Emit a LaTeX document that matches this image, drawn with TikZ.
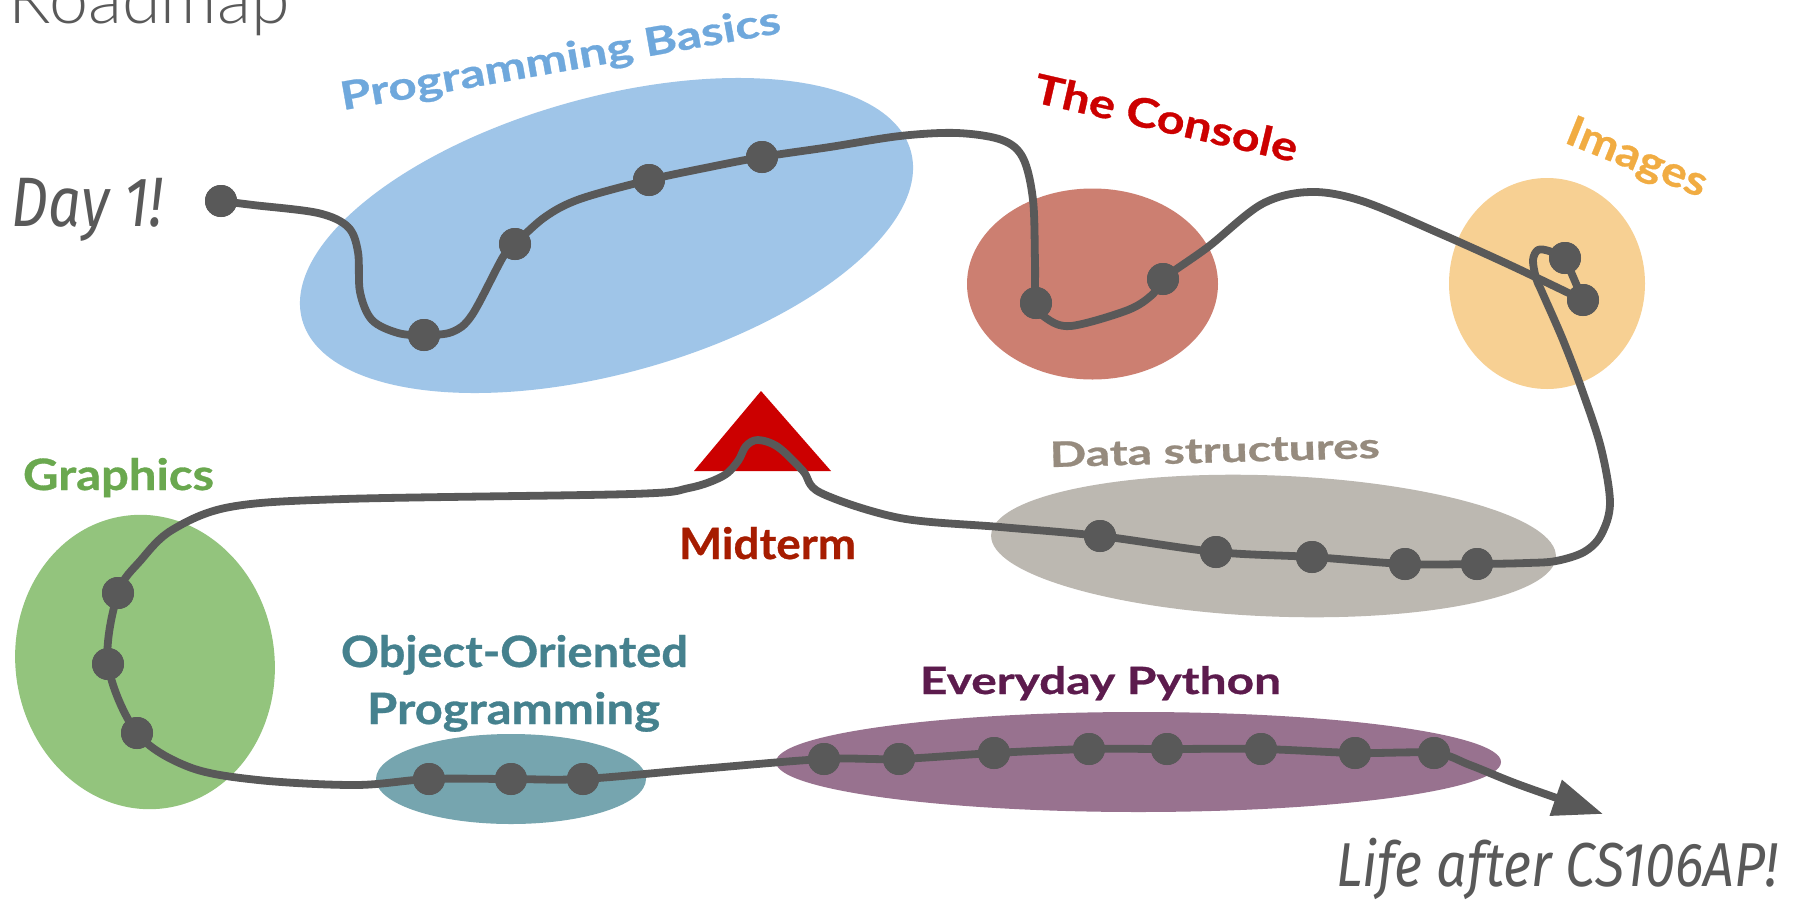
\documentclass[tikz,border=0pt]{standalone}
\usepackage{fontspec}
\usepackage{graphicx}
\usetikzlibrary{shapes.geometric,arrows.meta}
\newfontfamily\labfont{Lato}[BoldFeatures={FakeBold=0.7}]
\newfontfamily\handfont{Fira Sans}[UprightFont={* Italic}]
\newfontfamily\titlefont{Lato Light}
\definecolor{pathc}{HTML}{595959}
\definecolor{pbfill}{HTML}{9FC5E8}
\definecolor{pbtext}{HTML}{6FA8DC}
\definecolor{cofill}{HTML}{CC7F71}
\definecolor{cotext}{HTML}{CC0000}
\definecolor{imfill}{HTML}{F7D093}
\definecolor{imtext}{HTML}{F1AC42}
\definecolor{grfill}{HTML}{93C47D}
\definecolor{grtext}{HTML}{6AA84F}
\definecolor{oofill}{HTML}{76A5AF}
\definecolor{ootext}{HTML}{45818E}
\definecolor{epfill}{HTML}{98728F}
\definecolor{eptext}{HTML}{5C1B4D}
\definecolor{dsfill}{HTML}{BCB8B1}
\definecolor{dstext}{HTML}{968B7E}
\definecolor{midtri}{HTML}{CC0000}
\definecolor{midtext}{HTML}{A61C00}
\newcommand\lab[3]{\fontsize{#1}{#1}\selectfont\resizebox{#2}{\height}{#3}}
\tikzset{
  blob/.style={ellipse, inner sep=0pt, draw=none},
  lbl/.style={anchor=base, inner sep=0pt, font=\labfont\bfseries},
  hand/.style={anchor=base, inner sep=0pt, font=\handfont, text=pathc},
  dotn/.style={circle, fill=pathc, inner sep=0pt, minimum size=16pt},
  road/.style={draw=pathc, line width=3.9pt, line cap=round, line join=round},
}
\begin{document}
\begin{tikzpicture}[x=0.5pt, y=-0.5pt]
\fill[white] (0,0) rectangle (1794,900);
\useasboundingbox (0,0) rectangle (1794,900);

% title
\node[font=\titlefont, text=pathc, anchor=base east, inner sep=0pt] (title) at (290,23) {\fontsize{35pt}{35pt}\selectfont Roadmap};

% regions
\node[blob, fill=pbfill, minimum width=315.8pt, minimum height=138pt, rotate=15.5] (epb) at (606.5,235.5) {};
\node[blob, fill=cofill, minimum width=125.5pt, minimum height=95.5pt] (eco) at (1092.5,284) {};
\node[blob, fill=imfill, minimum width=98pt, minimum height=105.5pt] (eim) at (1547,283.5) {};
\node[blob, fill=grfill, minimum width=129.5pt, minimum height=147.5pt, rotate=8] (egr) at (145,662) {};
\node[blob, fill=oofill, minimum width=135pt, minimum height=45pt] (eoo) at (511,779) {};
\node[blob, fill=epfill, minimum width=362.5pt, minimum height=50pt] (eep) at (1138.5,762) {};
\node[blob, fill=dsfill, minimum width=282.6pt, minimum height=70.5pt, rotate=-2.2] (eds) at (1273.5,546) {};

% midterm triangle
\coordinate (ta) at (761,391);
\coordinate (tb) at (831,471);
\coordinate (tc) at (694,471);
\fill[midtri] (ta) -- (tb) -- (tc) -- cycle;

% labels
\node[lbl, text=pbtext, rotate=10] (lpb) at (562.5,71.5) {\lab{19.5pt}{223pt}{Programming Basics}};
\node[lbl, text=cotext, rotate=-13] (lco) at (1163,132) {\lab{20.2pt}{134.5pt}{The Console}};
\node[lbl, text=imtext, rotate=-22] (lim) at (1632,170) {\lab{21pt}{74pt}{Images}};
\node[lbl, text=grtext] (lgr) at (118.5,490) {\lab{21.6pt}{95.5pt}{Graphics}};
\node[lbl, text=midtext] (lmid) at (767.5,559) {\lab{21.6pt}{88.5pt}{Midterm}};
\node[lbl, text=ootext] (loo1) at (514.5,667) {\lab{21.6pt}{173.5pt}{Object-Oriented}};
\node[lbl, text=ootext] (loo2) at (513.5,724) {\lab{21.6pt}{146.5pt}{Programming}};
\node[lbl, text=dstext, rotate=1.6] (lds) at (1215,462.5) {\lab{17.5pt}{165pt}{Data structures}};
\node[lbl, text=eptext] (lep) at (1100.5,694) {\lab{18.8pt}{180.5pt}{Everyday Python}};
\node[hand] (lday) at (87.5,226) {\lab{35pt}{75.5pt}{Day 1!}};
\node[hand] (llife) at (1557,886) {\lab{31pt}{221pt}{Life after CS106AP!}};

% stops
\node[dotn] (d0) at (221,201) {};
\node[dotn] (d1) at (424,335) {};
\node[dotn] (d2) at (515,244) {};
\node[dotn] (d3) at (649,180) {};
\node[dotn] (d4) at (762,157) {};
\node[dotn] (d5) at (1036,303) {};
\node[dotn] (d6) at (1163,279) {};
\node[dotn] (d7) at (1583,300) {};
\node[dotn] (d8) at (1565,258) {};
\node[dotn] (d9) at (1477,564) {};
\node[dotn] (d10) at (1405,564) {};
\node[dotn] (d11) at (1312,557) {};
\node[dotn] (d12) at (1216,552) {};
\node[dotn] (d13) at (1100,536) {};
\node[dotn] (d14) at (118,593) {};
\node[dotn] (d15) at (108,664) {};
\node[dotn] (d16) at (137,733) {};
\node[dotn] (d17) at (429,779) {};
\node[dotn] (d18) at (511,779) {};
\node[dotn] (d19) at (583,779) {};
\node[dotn] (d20) at (824,759) {};
\node[dotn] (d21) at (899,759) {};
\node[dotn] (d22) at (994,753) {};
\node[dotn] (d23) at (1089,749) {};
\node[dotn] (d24) at (1167,749) {};
\node[dotn] (d25) at (1261,749) {};
\node[dotn] (d26) at (1355,753) {};
\node[dotn] (d27) at (1434,753) {};
\coordinate (tip) at (1603,814);

% road
\draw[road] plot[smooth, tension=0.55] coordinates {
 (d0.center) (253,205) (318,213) (348,227) (358,252) (360,292) (372,320) (398,333) (d1.center)
 (452,332) (472,315) (503,257) (d2.center) (545,217) (580,199) (d3.center) (705,168) (d4.center)
 (830,147) (900,136) (957,133) (1002,140) (1023,158) (1033,200) (1035,262) (d5.center)
 (1046,318) (1071,326) (1128,310) (1153,294) (d6.center) (1208,247) (1262,204) (1310,192)
 (1362,201) (1441,234) (1512,266) (d7.center)};
\draw[road] (d7.center) -- (d8.center);
\draw[road, -{Triangle[length=25pt 0 0, width=18pt 0 0]}] plot[smooth, tension=0.55] coordinates {
 (d8.center) (1549,251) (1538,250) (1533,260) (1536,278) (1542,292) (1563,340) (1582,390)
 (1601,448) (1610,503) (1601,535) (1584,552) (1556,561) (1527,563) (d9.center) (d10.center)
 (d11.center) (d12.center) (d13.center) (1000,527) (900,518) (821,493) (803,471) (778,447)
 (758,440) (746,446) (738,461) (723,476) (689,488) (631,494) (344,499) (230,507) (172,530)
 (141,560) (d14.center) (d15.center) (d16.center) (189,767) (258,780) (356,785) (d17.center)
 (d18.center) (d19.center) (700,769) (d20.center) (d21.center) (d22.center) (d23.center)
 (d24.center) (d25.center) (d26.center) (d27.center) (1470,765) (1520,785) (tip)};

% stops on top of the road
\foreach \n in {d0,d1,d2,d3,d4,d5,d6,d7,d8,d9,d10,d11,d12,d13,d14,d15,d16,d17,d18,d19,d20,d21,d22,d23,d24,d25,d26,d27}
  \fill[pathc] (\n.center) circle[radius=16];
\end{tikzpicture}
\end{document}
